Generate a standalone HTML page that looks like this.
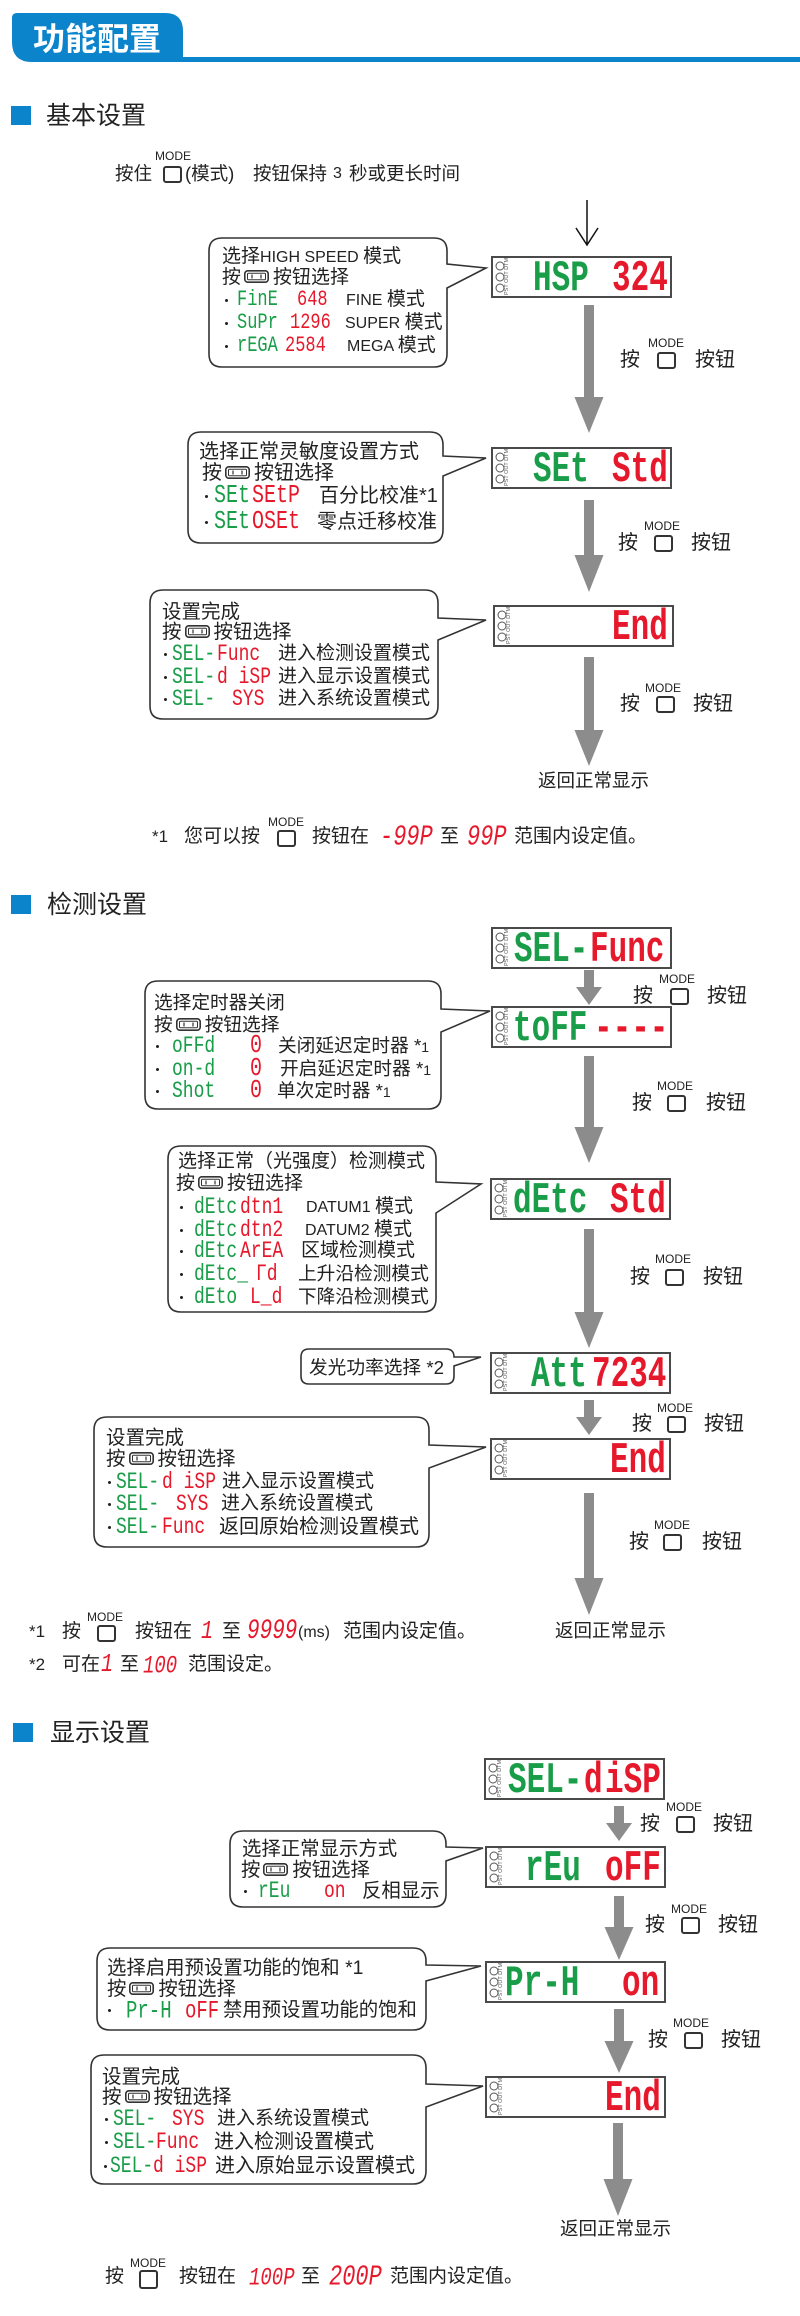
<!DOCTYPE html>
<html><head><meta charset="utf-8"><style>
*{margin:0;padding:0;box-sizing:border-box}
body{width:800px;height:2316px;position:relative;background:#fff;overflow:hidden;font-family:"Liberation Sans","Noto Sans CJK SC",sans-serif;color:#222}
svg.bg{position:absolute;left:0;top:0}
.t{position:absolute;white-space:nowrap;font-size:19px;line-height:24px}
.h{position:absolute;white-space:nowrap;font-size:25px;line-height:30px;color:#222}
.m{position:absolute;white-space:nowrap;font-size:12px;line-height:12px;color:#222}
.k{position:absolute;width:19px;height:17px;border:2px solid #333;border-radius:3px;background:#fff}
.s,.d{position:absolute;white-space:nowrap;font-family:"Liberation Mono","DejaVu Sans Mono",monospace;font-weight:bold}
.s{font-size:18px;line-height:24px;transform:scaleY(1.3);font-weight:normal}
.d{font-size:31px;line-height:40px;transform:scaleY(1.4)}
.g{color:#1a9d48}.r{color:#e5192b}
.i{font-style:italic}
.l{font-size:16px}
.u{position:absolute;width:3px;height:3px;border-radius:50%;background:#222}
.bi{display:inline-block;width:25px;height:13px;margin:0 4px 0 3px;vertical-align:0}
.bi svg{display:block}
.lb{font-size:20px}
.sm{font-size:14px}
</style></head><body>
<svg class="bg" width="800" height="2316" viewBox="0 0 800 2316">
<path d="M12 18 Q12 13 17 13 H165 Q183 13 183 31 V62 H32 Q12 62 12 42 Z" fill="#0b84cc"/>
<rect x="180" y="57" width="620" height="5" fill="#0b84cc"/>
<rect x="11" y="106" width="20" height="19" fill="#0b84cc"/>
<rect x="11" y="895" width="20" height="19" fill="#0b84cc"/>
<rect x="13" y="1723" width="20" height="19" fill="#0b84cc"/>
<path d="M587 200 V244 M576 228 L587 245 L598 228" stroke="#111" stroke-width="1.5" fill="none"/>
<g fill="#fff" stroke="#333" stroke-width="1.6">
<path d="M222 238 H434 Q447 238 447 251 V264 L486 268 L447 288 V354 Q447 367 434 367 H222 Q209 367 209 354 V251 Q209 238 222 238 Z"/>
<path d="M201 432 H430 Q443 432 443 445 V456 L486 458 L443 476 V530 Q443 543 430 543 H201 Q188 543 188 530 V445 Q188 432 201 432 Z"/>
<path d="M163 590 H425 Q438 590 438 603 V618 L486 620 L438 640 V706 Q438 719 425 719 H163 Q150 719 150 706 V603 Q150 590 163 590 Z"/>
<path d="M158 981 H428 Q441 981 441 994 V1009 L490 1011 L441 1032 V1096 Q441 1109 428 1109 H158 Q145 1109 145 1096 V994 Q145 981 158 981 Z"/>
<path d="M181 1146 H423 Q436 1146 436 1159 V1182 L481 1184 L436 1213 V1299 Q436 1312 423 1312 H181 Q168 1312 168 1299 V1159 Q168 1146 181 1146 Z"/>
<path d="M309 1349 H446 Q454 1349 454 1357 L481 1357 L454 1366 V1376 Q454 1384 446 1384 H309 Q301 1384 301 1376 V1357 Q301 1349 309 1349 Z"/>
<path d="M107 1417 H416 Q429 1417 429 1430 V1445 L486 1447 L429 1468 V1534 Q429 1547 416 1547 H107 Q94 1547 94 1534 V1430 Q94 1417 107 1417 Z"/>
<path d="M243 1831 H433 Q446 1831 446 1844 V1847 L483 1848 L446 1861 V1894 Q446 1907 433 1907 H243 Q230 1907 230 1894 V1844 Q230 1831 243 1831 Z"/>
<path d="M110 1948 H413 Q426 1948 426 1961 V1965 L481 1966 L426 1981 V2017 Q426 2030 413 2030 H110 Q97 2030 97 2017 V1961 Q97 1948 110 1948 Z"/>
<path d="M104 2055 H413 Q426 2055 426 2068 V2084 L483 2086 L426 2107 V2171 Q426 2184 413 2184 H104 Q91 2184 91 2171 V2068 Q91 2055 104 2055 Z"/>
</g>
<g fill="#8c8c8c">
<polygon points="584,305 594,305 594,397 603.5,397 589,433 574.5,397 584,397"/>
<polygon points="584,500 594,500 594,555 603.5,555 589,592 574.5,555 584,555"/>
<polygon points="584,657 594,657 594,730 603.5,730 589,766 574.5,730 584,730"/>
<polygon points="584,970 594,970 594,987 602,987 589,1005 576,987 584,987"/>
<polygon points="584,1056 594,1056 594,1127 603.5,1127 589,1163 574.5,1127 584,1127"/>
<polygon points="584,1229 594,1229 594,1312 603.5,1312 589,1348 574.5,1312 584,1312"/>
<polygon points="584,1400 594,1400 594,1417 602,1417 589,1435 576,1417 584,1417"/>
<polygon points="584,1493 594,1493 594,1578 603.5,1578 589,1615 574.5,1578 584,1578"/>
<polygon points="614,1806 624,1806 624,1823 632,1823 619,1841 606,1823 614,1823"/>
<polygon points="614,1896 624,1896 624,1927 633.5,1927 619,1960 604.5,1927 614,1927"/>
<polygon points="614,2009 624,2009 624,2041 633.5,2041 619,2073 604.5,2041 614,2041"/>
<polygon points="613,2123 623,2123 623,2179 632.5,2179 618,2216 603.5,2179 613,2179"/>
</g>
<g fill="#fff" stroke="#4a4a4a" stroke-width="2">
<rect x="492" y="257" width="179" height="40"/>
<rect x="492" y="448" width="179" height="40"/>
<rect x="494" y="606" width="179" height="40"/>
<rect x="492" y="928" width="179" height="40"/>
<rect x="492" y="1007" width="179" height="40"/>
<rect x="491" y="1179" width="179" height="40"/>
<rect x="491" y="1353" width="179" height="40"/>
<rect x="491" y="1439" width="179" height="40"/>
<rect x="485" y="1759" width="179" height="40"/>
<rect x="486" y="1847" width="179" height="40"/>
<rect x="486" y="1962" width="179" height="40"/>
<rect x="486" y="2077" width="179" height="40"/>
</g>
<g fill="none" stroke="#555" stroke-width="1">
<circle cx="500" cy="266" r="4"/><circle cx="500" cy="277" r="4"/><circle cx="500" cy="288" r="4"/>
<circle cx="500" cy="457" r="4"/><circle cx="500" cy="468" r="4"/><circle cx="500" cy="479" r="4"/>
<circle cx="502" cy="615" r="4"/><circle cx="502" cy="626" r="4"/><circle cx="502" cy="637" r="4"/>
<circle cx="500" cy="937" r="4"/><circle cx="500" cy="948" r="4"/><circle cx="500" cy="959" r="4"/>
<circle cx="500" cy="1016" r="4"/><circle cx="500" cy="1027" r="4"/><circle cx="500" cy="1038" r="4"/>
<circle cx="499" cy="1188" r="4"/><circle cx="499" cy="1199" r="4"/><circle cx="499" cy="1210" r="4"/>
<circle cx="499" cy="1362" r="4"/><circle cx="499" cy="1373" r="4"/><circle cx="499" cy="1384" r="4"/>
<circle cx="499" cy="1448" r="4"/><circle cx="499" cy="1459" r="4"/><circle cx="499" cy="1470" r="4"/>
<circle cx="493" cy="1768" r="4"/><circle cx="493" cy="1779" r="4"/><circle cx="493" cy="1790" r="4"/>
<circle cx="494" cy="1856" r="4"/><circle cx="494" cy="1867" r="4"/><circle cx="494" cy="1878" r="4"/>
<circle cx="494" cy="1971" r="4"/><circle cx="494" cy="1982" r="4"/><circle cx="494" cy="1993" r="4"/>
<circle cx="494" cy="2086" r="4"/><circle cx="494" cy="2097" r="4"/><circle cx="494" cy="2108" r="4"/>
</g>
<g font-family="Liberation Sans, sans-serif" font-size="5.5" fill="#555">
<text transform="translate(508,295) rotate(-90)">PST OUT DTM</text>
<text transform="translate(508,486) rotate(-90)">PST OUT DTM</text>
<text transform="translate(510,644) rotate(-90)">PST OUT DTM</text>
<text transform="translate(508,966) rotate(-90)">PST OUT DTM</text>
<text transform="translate(508,1045) rotate(-90)">PST OUT DTM</text>
<text transform="translate(507,1217) rotate(-90)">PST OUT DTM</text>
<text transform="translate(507,1391) rotate(-90)">PST OUT DTM</text>
<text transform="translate(507,1477) rotate(-90)">PST OUT DTM</text>
<text transform="translate(501,1797) rotate(-90)">PST OUT DTM</text>
<text transform="translate(502,1885) rotate(-90)">PST OUT DTM</text>
<text transform="translate(502,2000) rotate(-90)">PST OUT DTM</text>
<text transform="translate(502,2115) rotate(-90)">PST OUT DTM</text>
</g>
</svg>

<div style="position:absolute;left:33px;top:20px;font-size:32px;line-height:38px;font-weight:bold;color:#fff;white-space:nowrap">功能配置</div>

<!-- Section 1 -->
<div class="h" style="left:46px;top:101px">基本设置</div>
<div class="t" style="left:115px;top:162px;font-size:18.5px">按住</div>
<div class="m" style="left:155px;top:150px">MODE</div>
<div class="k" style="left:163px;top:166px"></div>
<div class="t" style="left:185px;top:162px;font-size:18.5px">(模式)</div>
<div class="t" style="left:253px;top:162px;font-size:18.5px">按钮保持</div>
<div class="t" style="left:333px;top:162px;font-size:16px">3</div>
<div class="t" style="left:349px;top:162px;font-size:18.5px">秒或更长时间</div>

<div class="d g" style="left:533px;top:260px">HSP</div><div class="d r" style="left:612px;top:260px">324</div>
<div class="d g" style="left:533px;top:451px">SEt</div><div class="d r" style="left:612px;top:451px">Std</div>
<div class="d r" style="left:612px;top:609px">End</div>

<div class="t" style="left:222px;top:245px">选择<span class="l">HIGH SPEED </span>模式</div>
<div class="t" style="left:222px;top:266px">按<span class="bi"><svg width="25" height="13" viewBox="0 0 25 13"><rect x="0.8" y="0.8" width="23.4" height="11.4" rx="3" fill="#fff" stroke="#333" stroke-width="1.6"/><rect x="3.5" y="3.2" width="18" height="6.6" rx="1" fill="none" stroke="#333" stroke-width="1"/><path d="M8 4.5 V8.5 M17 4.5 V8.5" stroke="#333" stroke-width="1.2"/></svg></span>按钮选择</div>
<div class="u" style="left:225px;top:299px"></div>
<div class="s g" style="left:237px;top:289px;font-size:17px">FinE</div>
<div class="s r" style="left:297px;top:289px;font-size:17px">648</div>
<div class="t" style="left:346px;top:288px"><span class="l">FINE </span>模式</div>
<div class="u" style="left:225px;top:322px"></div>
<div class="s g" style="left:237px;top:312px;font-size:17px">SuPr</div>
<div class="s r" style="left:290px;top:312px;font-size:17px">1296</div>
<div class="t" style="left:345px;top:311px"><span class="l">SUPER </span>模式</div>
<div class="u" style="left:225px;top:345px"></div>
<div class="s g" style="left:237px;top:335px;font-size:17px">rEGA</div>
<div class="s r" style="left:285px;top:335px;font-size:17px">2584</div>
<div class="t" style="left:347px;top:334px"><span class="l">MEGA </span>模式</div>

<div class="t lb" style="left:620px;top:348px">按</div><div class="m" style="left:648px;top:337px">MODE</div><div class="k" style="left:657px;top:352px"></div><div class="t lb" style="left:695px;top:348px">按钮</div>

<div class="t" style="left:199px;top:440px;font-size:20px">选择正常灵敏度设置方式</div>
<div class="t" style="left:202px;top:461px;font-size:20px">按<span class="bi"><svg width="25" height="13" viewBox="0 0 25 13"><rect x="0.8" y="0.8" width="23.4" height="11.4" rx="3" fill="#fff" stroke="#333" stroke-width="1.6"/><rect x="3.5" y="3.2" width="18" height="6.6" rx="1" fill="none" stroke="#333" stroke-width="1"/><path d="M8 4.5 V8.5 M17 4.5 V8.5" stroke="#333" stroke-width="1.2"/></svg></span>按钮选择</div>
<div class="u" style="left:205px;top:495px"></div>
<div class="s g" style="left:214px;top:485px;font-size:20px">SEt</div>
<div class="s r" style="left:252px;top:485px;font-size:20px">SEtP</div>
<div class="t" style="left:319px;top:484px;font-size:20px">百分比校准*1</div>
<div class="u" style="left:205px;top:521px"></div>
<div class="s g" style="left:214px;top:511px;font-size:20px">SEt</div>
<div class="s r" style="left:252px;top:511px;font-size:20px">OSEt</div>
<div class="t" style="left:317px;top:510px;font-size:20px">零点迁移校准</div>

<div class="t lb" style="left:618px;top:531px">按</div><div class="m" style="left:644px;top:520px">MODE</div><div class="k" style="left:654px;top:535px"></div><div class="t lb" style="left:691px;top:531px">按钮</div>

<div class="t" style="left:162px;top:600px;font-size:19.5px">设置完成</div>
<div class="t" style="left:162px;top:620px;font-size:19.5px">按<span class="bi"><svg width="25" height="13" viewBox="0 0 25 13"><rect x="0.8" y="0.8" width="23.4" height="11.4" rx="3" fill="#fff" stroke="#333" stroke-width="1.6"/><rect x="3.5" y="3.2" width="18" height="6.6" rx="1" fill="none" stroke="#333" stroke-width="1"/><path d="M8 4.5 V8.5 M17 4.5 V8.5" stroke="#333" stroke-width="1.2"/></svg></span>按钮选择</div>
<div class="u" style="left:164px;top:653px"></div>
<div class="s g" style="left:172px;top:643px">SEL-</div><div class="s r" style="left:217px;top:643px">Func</div>
<div class="t" style="left:278px;top:642px;font-size:19px">进入检测设置模式</div>
<div class="u" style="left:164px;top:676px"></div>
<div class="s g" style="left:172px;top:666px">SEL-</div><div class="s r" style="left:217px;top:666px">d iSP</div>
<div class="t" style="left:278px;top:665px;font-size:19px">进入显示设置模式</div>
<div class="u" style="left:164px;top:698px"></div>
<div class="s g" style="left:172px;top:688px">SEL-</div><div class="s r" style="left:232px;top:688px">SYS</div>
<div class="t" style="left:278px;top:687px;font-size:19px">进入系统设置模式</div>

<div class="t lb" style="left:620px;top:692px">按</div><div class="m" style="left:645px;top:682px">MODE</div><div class="k" style="left:656px;top:696px"></div><div class="t lb" style="left:693px;top:692px">按钮</div>

<div class="t" style="left:538px;top:769px;font-size:18.5px">返回正常显示</div>

<div class="t" style="left:152px;top:825px;font-size:17px">*1</div>
<div class="t" style="left:184px;top:825px">您可以按</div>
<div class="m" style="left:268px;top:816px">MODE</div>
<div class="k" style="left:277px;top:830px"></div>
<div class="t" style="left:312px;top:825px">按钮在</div>
<div class="s r i" style="left:380px;top:826px;font-size:22px">-99P</div>
<div class="t" style="left:440px;top:825px">至</div>
<div class="s r i" style="left:467px;top:826px;font-size:22px">99P</div>
<div class="t" style="left:514px;top:825px">范围内设定值。</div>

<!-- Section 2 -->
<div class="h" style="left:47px;top:890px">检测设置</div>
<div class="d g" style="left:514px;top:931px">SEL-</div><div class="d r" style="left:590px;top:931px">Func</div>
<div class="d g" style="left:513px;top:1010px">toFF</div><div class="d r" style="left:594px;top:1010px">----</div>
<div class="d g" style="left:513px;top:1182px">dEtc</div><div class="d r" style="left:610px;top:1182px">Std</div>
<div class="d g" style="left:531px;top:1356px">Att</div><div class="d r" style="left:592px;top:1356px">7234</div>
<div class="d r" style="left:610px;top:1442px">End</div>

<div class="t lb" style="left:633px;top:984px">按</div><div class="m" style="left:659px;top:973px">MODE</div><div class="k" style="left:670px;top:988px"></div><div class="t lb" style="left:707px;top:984px">按钮</div>
<div class="t lb" style="left:632px;top:1091px">按</div><div class="m" style="left:657px;top:1080px">MODE</div><div class="k" style="left:667px;top:1095px"></div><div class="t lb" style="left:706px;top:1091px">按钮</div>
<div class="t lb" style="left:630px;top:1265px">按</div><div class="m" style="left:655px;top:1253px">MODE</div><div class="k" style="left:665px;top:1269px"></div><div class="t lb" style="left:703px;top:1265px">按钮</div>
<div class="t lb" style="left:632px;top:1412px">按</div><div class="m" style="left:657px;top:1402px">MODE</div><div class="k" style="left:667px;top:1416px"></div><div class="t lb" style="left:704px;top:1412px">按钮</div>
<div class="t lb" style="left:629px;top:1530px">按</div><div class="m" style="left:654px;top:1519px">MODE</div><div class="k" style="left:663px;top:1534px"></div><div class="t lb" style="left:702px;top:1530px">按钮</div>

<div class="t" style="left:154px;top:991px;font-size:18.7px">选择定时器关闭</div>
<div class="t" style="left:154px;top:1013px;font-size:18.7px">按<span class="bi"><svg width="25" height="13" viewBox="0 0 25 13"><rect x="0.8" y="0.8" width="23.4" height="11.4" rx="3" fill="#fff" stroke="#333" stroke-width="1.6"/><rect x="3.5" y="3.2" width="18" height="6.6" rx="1" fill="none" stroke="#333" stroke-width="1"/><path d="M8 4.5 V8.5 M17 4.5 V8.5" stroke="#333" stroke-width="1.2"/></svg></span>按钮选择</div>
<div class="u" style="left:156px;top:1045px"></div>
<div class="s g" style="left:172px;top:1035px">oFFd</div><div class="s r" style="left:250px;top:1035px;font-size:20px">0</div>
<div class="t" style="left:278px;top:1034px;font-size:18.7px">关闭延迟定时器 *<span class="sm">1</span></div>
<div class="u" style="left:156px;top:1068px"></div>
<div class="s g" style="left:172px;top:1058px">on-d</div><div class="s r" style="left:250px;top:1058px;font-size:20px">0</div>
<div class="t" style="left:280px;top:1057px;font-size:18.7px">开启延迟定时器 *<span class="sm">1</span></div>
<div class="u" style="left:156px;top:1090px"></div>
<div class="s g" style="left:172px;top:1080px">Shot</div><div class="s r" style="left:250px;top:1080px;font-size:20px">0</div>
<div class="t" style="left:277px;top:1079px;font-size:18.7px">单次定时器 *<span class="sm">1</span></div>

<div class="t" style="left:178px;top:1150px">选择正常（光强度）检测模式</div>
<div class="t" style="left:176px;top:1172px">按<span class="bi"><svg width="25" height="13" viewBox="0 0 25 13"><rect x="0.8" y="0.8" width="23.4" height="11.4" rx="3" fill="#fff" stroke="#333" stroke-width="1.6"/><rect x="3.5" y="3.2" width="18" height="6.6" rx="1" fill="none" stroke="#333" stroke-width="1"/><path d="M8 4.5 V8.5 M17 4.5 V8.5" stroke="#333" stroke-width="1.2"/></svg></span>按钮选择</div>
<div class="u" style="left:180px;top:1206px"></div>
<div class="s g" style="left:194px;top:1196px">dEtc</div><div class="s r" style="left:240px;top:1196px">dtn1</div>
<div class="t" style="left:306px;top:1195px"><span class="l">DATUM1 </span>模式</div>
<div class="u" style="left:180px;top:1229px"></div>
<div class="s g" style="left:194px;top:1219px">dEtc</div><div class="s r" style="left:240px;top:1219px">dtn2</div>
<div class="t" style="left:305px;top:1218px"><span class="l">DATUM2 </span>模式</div>
<div class="u" style="left:180px;top:1250px"></div>
<div class="s g" style="left:194px;top:1240px">dEtc</div><div class="s r" style="left:240px;top:1240px">ArEA</div>
<div class="t" style="left:301px;top:1239px">区域检测模式</div>
<div class="u" style="left:180px;top:1273px"></div>
<div class="s g" style="left:194px;top:1263px">dEtc_</div><div class="s r" style="left:256px;top:1263px">Γd</div>
<div class="t" style="left:298px;top:1262px;font-size:18.7px">上升沿检测模式</div>
<div class="u" style="left:180px;top:1296px"></div>
<div class="s g" style="left:194px;top:1286px">dEto</div><div class="s r" style="left:250px;top:1286px">L_d</div>
<div class="t" style="left:298px;top:1285px;font-size:18.7px">下降沿检测模式</div>

<div class="t" style="left:309px;top:1356px;font-size:18.7px">发光功率选择 *2</div>

<div class="t" style="left:106px;top:1426px;font-size:19.5px">设置完成</div>
<div class="t" style="left:106px;top:1447px;font-size:19.5px">按<span class="bi"><svg width="25" height="13" viewBox="0 0 25 13"><rect x="0.8" y="0.8" width="23.4" height="11.4" rx="3" fill="#fff" stroke="#333" stroke-width="1.6"/><rect x="3.5" y="3.2" width="18" height="6.6" rx="1" fill="none" stroke="#333" stroke-width="1"/><path d="M8 4.5 V8.5 M17 4.5 V8.5" stroke="#333" stroke-width="1.2"/></svg></span>按钮选择</div>
<div class="u" style="left:108px;top:1481px"></div>
<div class="s g" style="left:116px;top:1471px">SEL-</div><div class="s r" style="left:162px;top:1471px">d iSP</div>
<div class="t" style="left:222px;top:1470px;font-size:19px">进入显示设置模式</div>
<div class="u" style="left:108px;top:1503px"></div>
<div class="s g" style="left:116px;top:1493px">SEL-</div><div class="s r" style="left:176px;top:1493px">SYS</div>
<div class="t" style="left:221px;top:1492px;font-size:19px">进入系统设置模式</div>
<div class="u" style="left:108px;top:1526px"></div>
<div class="s g" style="left:116px;top:1516px">SEL-</div><div class="s r" style="left:162px;top:1516px">Func</div>
<div class="t" style="left:219px;top:1515px;font-size:20px">返回原始检测设置模式</div>

<div class="t" style="left:555px;top:1619px;font-size:18.5px">返回正常显示</div>

<div class="t" style="left:29px;top:1620px;font-size:17px">*1</div>
<div class="t" style="left:62px;top:1620px">按</div>
<div class="m" style="left:87px;top:1611px">MODE</div>
<div class="k" style="left:97px;top:1625px"></div>
<div class="t" style="left:135px;top:1620px">按钮在</div>
<div class="s r i" style="left:201px;top:1621px;font-size:20px">1</div>
<div class="t" style="left:222px;top:1620px">至</div>
<div class="s r i" style="left:247px;top:1621px;font-size:21px">9999</div>
<div class="t" style="left:298px;top:1621px;font-size:16px">(ms)</div>
<div class="t" style="left:343px;top:1620px">范围内设定值。</div>
<div class="t" style="left:29px;top:1653px;font-size:17px">*2</div>
<div class="t" style="left:62px;top:1653px">可在</div>
<div class="s r i" style="left:101px;top:1654px;font-size:20px">1</div>
<div class="t" style="left:120px;top:1653px">至</div>
<div class="s r i" style="left:143px;top:1654px;font-size:19px">100</div>
<div class="t" style="left:188px;top:1653px">范围设定。</div>

<!-- Section 3 -->
<div class="h" style="left:50px;top:1718px">显示设置</div>
<div class="d g" style="left:508px;top:1762px">SEL-</div><div class="d r" style="left:584px;top:1762px">d</div><div class="d r" style="left:605px;top:1762px">iSP</div>
<div class="d g" style="left:525px;top:1850px">rEu</div><div class="d r" style="left:605px;top:1850px">oFF</div>
<div class="d g" style="left:505px;top:1965px">Pr-H</div><div class="d r" style="left:622px;top:1965px">on</div>
<div class="d r" style="left:605px;top:2080px">End</div>

<div class="t lb" style="left:640px;top:1812px">按</div><div class="m" style="left:666px;top:1801px">MODE</div><div class="k" style="left:676px;top:1816px"></div><div class="t lb" style="left:713px;top:1812px">按钮</div>
<div class="t lb" style="left:645px;top:1913px">按</div><div class="m" style="left:671px;top:1903px">MODE</div><div class="k" style="left:681px;top:1917px"></div><div class="t lb" style="left:718px;top:1913px">按钮</div>
<div class="t lb" style="left:648px;top:2028px">按</div><div class="m" style="left:673px;top:2017px">MODE</div><div class="k" style="left:684px;top:2032px"></div><div class="t lb" style="left:721px;top:2028px">按钮</div>

<div class="t" style="left:242px;top:1837px;font-size:19.4px">选择正常显示方式</div>
<div class="t" style="left:241px;top:1858px;font-size:19.4px">按<span class="bi"><svg width="25" height="13" viewBox="0 0 25 13"><rect x="0.8" y="0.8" width="23.4" height="11.4" rx="3" fill="#fff" stroke="#333" stroke-width="1.6"/><rect x="3.5" y="3.2" width="18" height="6.6" rx="1" fill="none" stroke="#333" stroke-width="1"/><path d="M8 4.5 V8.5 M17 4.5 V8.5" stroke="#333" stroke-width="1.2"/></svg></span>按钮选择</div>
<div class="u" style="left:244px;top:1890px"></div>
<div class="s g" style="left:258px;top:1880px">rEu</div><div class="s r" style="left:324px;top:1880px">on</div>
<div class="t" style="left:362px;top:1879px;font-size:19.4px">反相显示</div>

<div class="t" style="left:107px;top:1956px;font-size:19.4px">选择启用预设置功能的饱和 *1</div>
<div class="t" style="left:107px;top:1977px;font-size:19.4px">按<span class="bi"><svg width="25" height="13" viewBox="0 0 25 13"><rect x="0.8" y="0.8" width="23.4" height="11.4" rx="3" fill="#fff" stroke="#333" stroke-width="1.6"/><rect x="3.5" y="3.2" width="18" height="6.6" rx="1" fill="none" stroke="#333" stroke-width="1"/><path d="M8 4.5 V8.5 M17 4.5 V8.5" stroke="#333" stroke-width="1.2"/></svg></span>按钮选择</div>
<div class="u" style="left:108px;top:2009px"></div>
<div class="s g" style="left:126px;top:1999px;font-size:19px">Pr-H</div><div class="s r" style="left:185px;top:1999px;font-size:19px">oFF</div>
<div class="t" style="left:223px;top:1998px;font-size:19.4px">禁用预设置功能的饱和</div>

<div class="t" style="left:102px;top:2065px;font-size:19.5px">设置完成</div>
<div class="t" style="left:102px;top:2085px;font-size:19.5px">按<span class="bi"><svg width="25" height="13" viewBox="0 0 25 13"><rect x="0.8" y="0.8" width="23.4" height="11.4" rx="3" fill="#fff" stroke="#333" stroke-width="1.6"/><rect x="3.5" y="3.2" width="18" height="6.6" rx="1" fill="none" stroke="#333" stroke-width="1"/><path d="M8 4.5 V8.5 M17 4.5 V8.5" stroke="#333" stroke-width="1.2"/></svg></span>按钮选择</div>
<div class="u" style="left:105px;top:2118px"></div>
<div class="s g" style="left:113px;top:2108px">SEL-</div><div class="s r" style="left:172px;top:2108px">SYS</div>
<div class="t" style="left:217px;top:2107px;font-size:19px">进入系统设置模式</div>
<div class="u" style="left:105px;top:2141px"></div>
<div class="s g" style="left:113px;top:2131px">SEL-</div><div class="s r" style="left:156px;top:2131px">Func</div>
<div class="t" style="left:214px;top:2130px;font-size:20px">进入检测设置模式</div>
<div class="u" style="left:104px;top:2165px"></div>
<div class="s g" style="left:110px;top:2155px">SEL-</div><div class="s r" style="left:153px;top:2155px">d iSP</div>
<div class="t" style="left:215px;top:2154px;font-size:20px">进入原始显示设置模式</div>

<div class="t" style="left:560px;top:2217px;font-size:18.5px">返回正常显示</div>

<div class="t" style="left:105px;top:2265px">按</div>
<div class="m" style="left:130px;top:2257px">MODE</div>
<div class="k" style="left:139px;top:2270px;height:19px"></div>
<div class="t" style="left:179px;top:2265px">按钮在</div>
<div class="s r i" style="left:249px;top:2266px;font-size:19px">100P</div>
<div class="t" style="left:301px;top:2265px">至</div>
<div class="s r i" style="left:329px;top:2266px;font-size:22px">200P</div>
<div class="t" style="left:390px;top:2265px">范围内设定值。</div>
</body></html>
